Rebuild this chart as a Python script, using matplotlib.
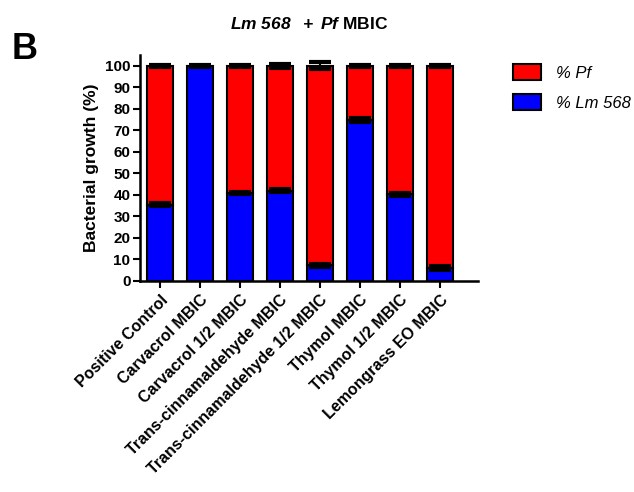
import numpy as np
import matplotlib
matplotlib.use('Agg')
import matplotlib.pyplot as plt
from matplotlib.patches import Patch

plt.rcParams['font.family'] = ['Liberation Sans', 'DejaVu Sans']
plt.rcParams['mathtext.fontset'] = 'custom'
plt.rcParams['mathtext.rm'] = 'Liberation Sans'
plt.rcParams['mathtext.it'] = 'Liberation Sans:italic'
plt.rcParams['mathtext.bf'] = 'Liberation Sans:bold'
plt.rcParams['mathtext.bfit'] = 'Liberation Sans:italic:bold'

# data
categories = ['Positive Control', 'Carvacrol MBIC', 'Carvacrol 1/2 MBIC',
              'Trans-cinnamaldehyde MBIC', 'Trans-cinnamaldehyde 1/2 MBIC',
              'Thymol MBIC', 'Thymol 1/2 MBIC', 'Lemongrass EO MBIC']
lm568 = [35.5, 100, 40.8, 42.0, 7.2, 74.8, 40.2, 6.0]
lm568_err = [0.6, 0.6, 0.5, 0.8, 0.6, 1.0, 0.5, 0.9]
pf = [100 - v for v in lm568]
pf_err = [0.4, 0.0, 0.4, 0.8, 1.6, 0.6, 0.4, 0.4]

fig = plt.figure(figsize=(6.34, 4.92), dpi=100)
ax = fig.add_axes([0.221, 0.429, 0.533, 0.459])

x = np.arange(len(categories))
w = 0.66
ax.bar(x, lm568, w, color='#0000ff', edgecolor='black', linewidth=1.5, zorder=2)
ax.bar(x, pf, w, bottom=lm568, color='#ff0000', edgecolor='black', linewidth=1.5, zorder=2)

ekw = dict(fmt='none', ecolor='black', elinewidth=1.5, capsize=8, capthick=3, zorder=3)
ax.errorbar(x, lm568, yerr=lm568_err, **ekw)
tops = [a + b for a, b in zip(lm568, pf)]
ax.errorbar(x, tops, yerr=pf_err, **ekw)

ax.set_xlim(-0.5, len(categories) - 0.5 + 0.45)
ax.set_ylim(0, 105)
ax.set_yticks(np.arange(0, 101, 10))
ax.set_xticks(x)
ax.set_xticklabels(categories, rotation=45, ha='right', rotation_mode='anchor',
                   fontsize=11.5, fontweight='bold')
for lb in ax.get_yticklabels():
    lb.set_fontweight('bold')
    lb.set_fontsize(11)
ax.tick_params(width=1.5, length=5, color='black')
ax.tick_params(axis='y', pad=2)
ax.tick_params(axis='x', pad=3)
for s in ['top', 'right']:
    ax.spines[s].set_visible(False)
for s in ['left', 'bottom']:
    ax.spines[s].set_linewidth(1.8)

ax.set_ylabel('Bacterial growth (%)', fontsize=12.5, fontweight='bold', labelpad=4)
ax.set_title(r'$\mathbfit{Lm\ 568\ \ +\ Pf}$ $\mathbf{MBIC}$', fontsize=12.5, pad=19)

handles = [Patch(facecolor='#ff0000', edgecolor='black', linewidth=1.5),
           Patch(facecolor='#0000ff', edgecolor='black', linewidth=1.5)]
fig.legend(handles, ['% Pf', '% Lm 568'],
           loc='upper left', bbox_to_anchor=(0.785, 0.9), frameon=False,
           prop={'size': 12, 'style': 'italic'}, handlelength=1.7,
           handleheight=1.1, handletextpad=0.9, labelspacing=0.8)

fig.text(0.018, 0.88, 'B', fontsize=26, fontweight='bold')

fig.savefig('out.png', dpi=100)
